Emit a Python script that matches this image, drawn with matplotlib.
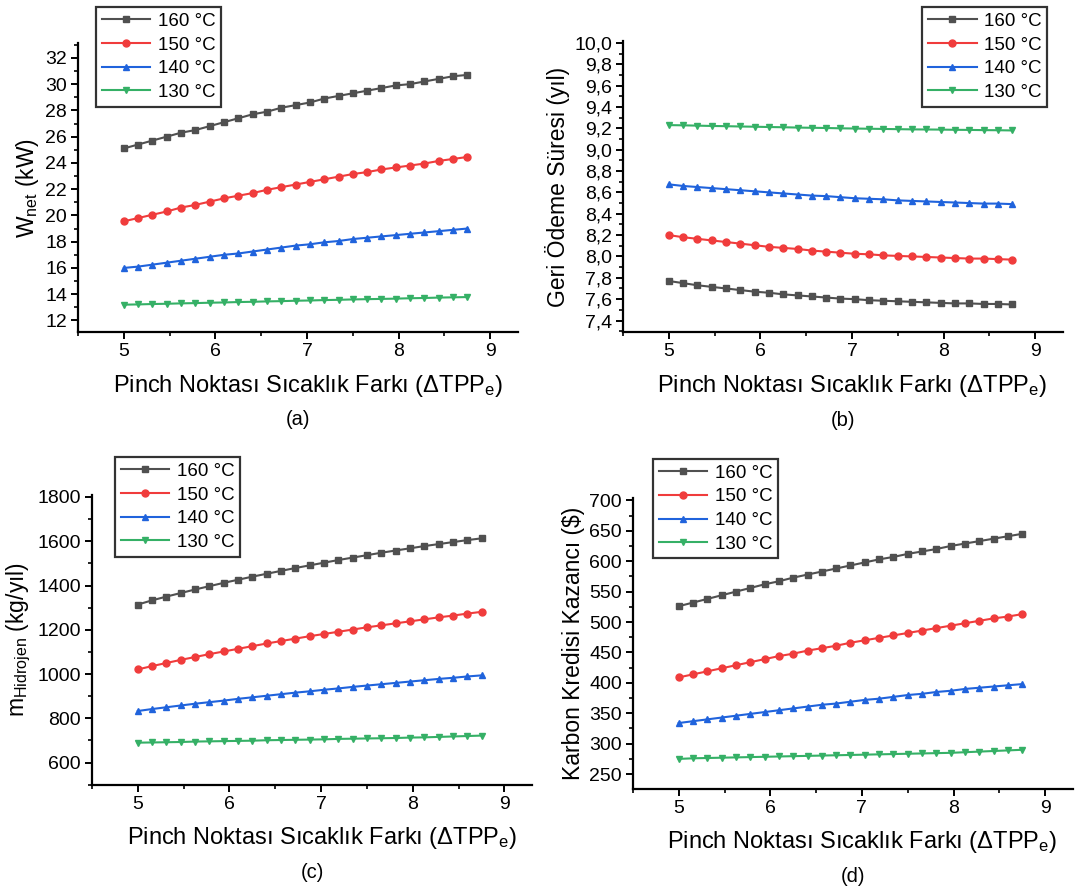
import numpy as np
import matplotlib
matplotlib.use('Agg')
import matplotlib.pyplot as plt
from matplotlib.ticker import MultipleLocator, FuncFormatter

plt.rcParams['font.family'] = ['Liberation Sans', 'DejaVu Sans']
plt.rcParams['mathtext.fontset'] = 'custom'
plt.rcParams['mathtext.rm'] = 'Liberation Sans'
plt.rcParams['mathtext.it'] = 'Liberation Sans:italic'
plt.rcParams['mathtext.bf'] = 'Liberation Sans:bold'

# pinch point temperature difference (x axis), 25 points from 5 to 8.75
dtpp = [5.0, 5.15625, 5.3125, 5.46875, 5.625, 5.78125, 5.9375, 6.09375, 6.25,
        6.40625, 6.5625, 6.71875, 6.875, 7.03125, 7.1875, 7.34375, 7.5,
        7.65625, 7.8125, 7.96875, 8.125, 8.28125, 8.4375, 8.59375, 8.75]

labels = ['160 °C', '150 °C', '140 °C', '130 °C']
colors = ['#505050', '#f03c3c', '#2063dc', '#35b066']
markers = ['s', 'o', '^', 'v']

# (a) net power, kW
wnet_160 = [25.1, 25.4, 25.7, 26.0, 26.3, 26.5, 26.8, 27.1, 27.4, 27.7, 27.9, 28.2, 28.4,
            28.6, 28.9, 29.1, 29.3, 29.5, 29.7, 29.9, 30.0, 30.2, 30.4, 30.6, 30.7]
wnet_150 = [19.55, 19.8, 20.05, 20.3, 20.6, 20.8, 21.05, 21.3, 21.5, 21.7, 21.95, 22.15, 22.35,
            22.55, 22.75, 22.95, 23.15, 23.3, 23.5, 23.65, 23.8, 23.95, 24.15, 24.3, 24.45]
wnet_140 = [16.0, 16.1, 16.25, 16.4, 16.55, 16.7, 16.85, 17.0, 17.1, 17.25, 17.4, 17.55, 17.7,
            17.8, 17.95, 18.05, 18.2, 18.3, 18.4, 18.5, 18.6, 18.7, 18.8, 18.9, 19.0]
wnet_130 = [13.2, 13.22, 13.25, 13.27, 13.3, 13.32, 13.35, 13.37, 13.4, 13.42, 13.45, 13.47, 13.5,
            13.52, 13.55, 13.57, 13.6, 13.62, 13.64, 13.66, 13.69, 13.71, 13.74, 13.76, 13.78]

# (b) payback period, years
pb_160 = [7.77, 7.75, 7.73, 7.715, 7.70, 7.685, 7.67, 7.66, 7.645, 7.635, 7.625, 7.615, 7.605,
          7.60, 7.59, 7.585, 7.58, 7.575, 7.57, 7.565, 7.56, 7.56, 7.555, 7.555, 7.55]
pb_150 = [8.20, 8.18, 8.165, 8.15, 8.135, 8.12, 8.105, 8.09, 8.08, 8.07, 8.055, 8.045, 8.035,
          8.025, 8.02, 8.01, 8.005, 8.0, 7.995, 7.99, 7.985, 7.98, 7.98, 7.975, 7.97]
pb_140 = [8.675, 8.66, 8.65, 8.64, 8.63, 8.62, 8.61, 8.60, 8.59, 8.58, 8.57, 8.565, 8.555,
          8.545, 8.54, 8.535, 8.525, 8.52, 8.515, 8.51, 8.505, 8.50, 8.495, 8.495, 8.49]
pb_130 = [9.23, 9.228, 9.225, 9.222, 9.22, 9.217, 9.215, 9.212, 9.21, 9.207, 9.205, 9.203, 9.2,
          9.198, 9.196, 9.194, 9.192, 9.19, 9.189, 9.188, 9.186, 9.185, 9.183, 9.182, 9.18]

# (c) hydrogen production, kg/year
h2_160 = [1314, 1333, 1350, 1366, 1382, 1397, 1412, 1426, 1440, 1453, 1466, 1479, 1491,
          1503, 1515, 1526, 1537, 1548, 1558, 1568, 1578, 1587, 1596, 1605, 1613]
h2_150 = [1021, 1036, 1050, 1064, 1077, 1090, 1102, 1114, 1126, 1138, 1149, 1160, 1171,
          1181, 1191, 1201, 1211, 1220, 1229, 1238, 1247, 1256, 1264, 1273, 1281]
h2_140 = [833, 842, 850, 858, 866, 873, 880, 888, 895, 902, 909, 916, 922,
          929, 935, 942, 948, 954, 960, 966, 972, 978, 983, 989, 994]
h2_130 = [690, 691, 692, 693, 695, 696, 697, 698, 699, 701, 702, 703, 704,
          705, 707, 708, 709, 710, 711, 713, 714, 716, 718, 720, 722]

# (d) carbon credit gain, $
cc_160 = [526, 532, 538, 544, 550, 556, 562, 567, 573, 578, 583, 588, 593,
          598, 603, 607, 612, 616, 620, 625, 629, 633, 637, 641, 645]
cc_150 = [409, 414, 419, 424, 429, 434, 439, 444, 448, 453, 457, 461, 466,
          470, 474, 478, 482, 486, 490, 494, 498, 502, 506, 509, 513]
cc_140 = [334, 337, 340, 343, 346, 349, 352, 355, 358, 361, 364, 366, 369,
          372, 374, 377, 380, 382, 385, 387, 390, 392, 394, 396, 398]
cc_130 = [275, 276, 276.5, 277, 277.5, 278, 278.5, 279, 279.5, 280, 280.5, 281, 281.5,
          282, 282.5, 283, 283.5, 284, 284.5, 285, 286, 287, 288, 289, 290]

xlabel = 'Pinch Noktası Sıcaklık Farkı (ΔTPP$_{\\mathrm{e}}$)'

fig = plt.figure(figsize=(10.9, 8.86), dpi=100)

panels = [
    # rect, series, ylim, major, minor, ylabel, tag, legend box (x0, y1) in fig coords
    ([0.0716, 0.625, 0.4034, 0.326], [wnet_160, wnet_150, wnet_140, wnet_130],
     (11.1, 33.1), 2, 1, 'W$_{\\mathrm{net}}$ (kW)', '(a)', (0.088, 0.992)),
    ([0.5716, 0.625, 0.4032, 0.329], [pb_160, pb_150, pb_140, pb_130],
     (7.29, 10.02), 0.2, 0.1, 'Geri Ödeme Süresi (yıl)', '(b)', (0.846, 0.992)),
    ([0.0844, 0.1143, 0.4036, 0.3273], [h2_160, h2_150, h2_140, h2_130],
     (500, 1810), 200, 100, 'm$_{\\mathrm{Hidrojen}}$ (kg/yıl)', '(c)', (0.1055, 0.484)),
    ([0.5807, 0.1098, 0.4033, 0.3282], [cc_160, cc_150, cc_140, cc_130],
     (226, 704), 50, 25, 'Karbon Kredisi Kazancı ($)', '(d)', (0.599, 0.482)),
]

for rect, series, ylim, major, minor, ylabel, tag, legpos in panels:
    ax = fig.add_axes(rect)
    handles = []
    for vals, lab, c, m in zip(series, labels, colors, markers):
        h, = ax.plot(dtpp, vals, color=c, marker=m, markersize=5, lw=1.5, label=lab)
        handles.append(h)
    ax.set_xlim(4.5, 9.3)
    ax.set_ylim(*ylim)
    ax.xaxis.set_major_locator(MultipleLocator(1))
    ax.xaxis.set_minor_locator(MultipleLocator(0.5))
    ax.yaxis.set_major_locator(MultipleLocator(major))
    ax.yaxis.set_minor_locator(MultipleLocator(minor))
    if tag == '(b)':
        ax.yaxis.set_major_formatter(FuncFormatter(lambda v, p: f'{v:.1f}'.replace('.', ',')))
    ax.spines['top'].set_visible(False)
    ax.spines['right'].set_visible(False)
    ax.spines['left'].set_linewidth(1.6)
    ax.spines['bottom'].set_linewidth(1.6)
    ax.tick_params(which='major', direction='out', length=5, width=1.4, labelsize=14, pad=3)
    ax.tick_params(which='minor', direction='out', length=3, width=1.2)
    ax.set_xlabel(xlabel, fontsize=17, labelpad=9, x=0.522)
    ax.set_ylabel(ylabel, fontsize=16.5, labelpad=3)
    ax.text(0.5, -0.27, tag, transform=ax.transAxes, ha='center', va='top', fontsize=14.5)
    leg = fig.legend(handles=handles, loc='upper left', bbox_to_anchor=legpos,
                     fontsize=13.5, frameon=True, fancybox=False, edgecolor='black',
                     borderpad=0.3, labelspacing=0.35, handlelength=2.6,
                     handletextpad=0.4, borderaxespad=0)
    leg.get_frame().set_linewidth(1.6)

fig.savefig('out.png', dpi=100)
